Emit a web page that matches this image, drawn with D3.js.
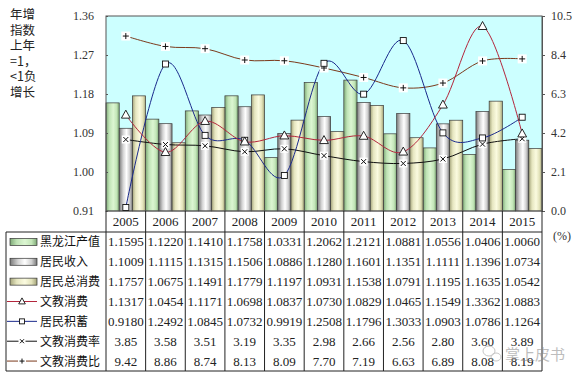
<!DOCTYPE html>
<html><head><meta charset="utf-8">
<script src="https://cdn.jsdelivr.net/npm/d3@7"></script>
<style>body{margin:0;background:#fff}svg{display:block}</style>
</head><body><svg id="c" width="581" height="379"></svg>
<script>
const years = ['2005','2006','2007','2008','2009','2010','2011','2012','2013','2014','2015'];
const hljOutput = [1.1595,1.1220,1.1410,1.1758,1.0331,1.2062,1.2121,1.0881,1.0556,1.0406,1.0060];
const income = [1.1009,1.1115,1.1315,1.1506,1.0886,1.1280,1.1601,1.1351,1.1111,1.1396,1.0734];
const totalConsumption = [1.1757,1.0675,1.1491,1.1779,1.1197,1.0931,1.1538,1.0791,1.1195,1.1635,1.0542];
const eduConsumption = [1.1317,1.0454,1.1171,1.0698,1.0837,1.0730,1.0829,1.0465,1.1549,1.3362,1.0883];
const savings = [0.9180,1.2492,1.0845,1.0732,0.9919,1.2508,1.1796,1.3033,1.0903,1.0786,1.1264];
const eduRate = [3.85,3.58,3.51,3.19,3.35,2.98,2.66,2.56,2.80,3.60,3.89];
const eduRatio = [9.42,8.86,8.74,8.13,8.09,7.70,7.19,6.63,6.89,8.08,8.19];
const leftTicks = [0.91,1.00,1.09,1.18,1.27,1.36];
const rightTicks = [0.0,2.1,4.2,6.3,8.4,10.5];
const seriesNames = ['黑龙江产值','居民收入','居民总消费','文教消费','居民积蓄','文教消费率','文教消费比'];
const yTitle = ['年增','指数','上年','=1，','<1负','增长'];

const svg = d3.select('#c');
const L=106, R=542, T=16, B=211;
const tableTop=232, tableBot=371, tableLeft=6;
const serif = '"Liberation Serif","Times New Roman",serif';
const cjk = '"Noto Sans CJK SC","Noto Sans",sans-serif';

const x = d3.scaleBand().domain(years).range([L,R]).paddingInner(0).paddingOuter(0);
const yL = d3.scaleLinear().domain([0.91,1.36]).range([B,T]);
const yR = d3.scaleLinear().domain([0,10.5]).range([B,T]);

// gradients
const defs = svg.append('defs');
function grad(id, stops){
  const g = defs.append('linearGradient').attr('id',id).attr('x1','0%').attr('x2','100%').attr('y1','0%').attr('y2','0%');
  stops.forEach(s=>g.append('stop').attr('offset',s[0]).attr('stop-color',s[1]));
}
grad('gG',[['0%','#7faa78'],['25%','#bfe3b5'],['55%','#dcf6d2'],['80%','#c3e6b8'],['100%','#7ea876']]);
grad('gS',[['0%','#7a7a7a'],['30%','#d4d4d4'],['55%','#ffffff'],['80%','#d0d0d0'],['100%','#777777']]);
grad('gY',[['0%','#a5a57c'],['25%','#e6e6c0'],['55%','#fbfbe0'],['80%','#e3e3bb'],['100%','#a3a378']]);
const fills = ['url(#gG)','url(#gS)','url(#gY)'];

// plot background
svg.append('rect').attr('x',L).attr('y',T).attr('width',R-L).attr('height',B-T).attr('fill','#CCFFFF');

// bars
const barSeries = [hljOutput, income, totalConsumption];
const bw = x.bandwidth()/3;
barSeries.forEach((arr,si)=>{
  svg.append('g').selectAll('rect').data(arr).join('rect')
    .attr('x',(d,i)=>x(years[i])+si*bw)
    .attr('y',d=>yL(d))
    .attr('width',bw)
    .attr('height',d=>B-yL(d))
    .attr('fill',fills[si]).attr('stroke','#3a3a3a').attr('stroke-width',0.7);
});

// plot border
svg.append('rect').attr('x',L).attr('y',T).attr('width',R-L).attr('height',B-T).attr('fill','none').attr('stroke','#555').attr('stroke-width',1);

// left axis
const gl = svg.append('g').attr('transform',`translate(${L},0)`)
  .call(d3.axisLeft(yL).tickValues(leftTicks).tickFormat(d3.format('.2f')).tickSize(-2).tickPadding(12));
gl.select('.domain').remove();
gl.selectAll('line').attr('stroke','#555');
gl.selectAll('text').attr('font-family',serif).attr('font-size',12).attr('fill','#333');
// right axis
const gr = svg.append('g').attr('transform',`translate(${R},0)`)
  .call(d3.axisRight(yR).tickValues(rightTicks).tickFormat(d3.format('.1f')).tickSize(3).tickPadding(6));
gr.select('.domain').attr('stroke','#555');
gr.selectAll('line').attr('stroke','#555');
gr.selectAll('text').attr('font-family',serif).attr('font-size',12).attr('fill','#333');

svg.append('text').attr('x',553).attr('y',240).text('(%)').attr('font-family',serif).attr('font-size',12).attr('fill','#333');

// y title
svg.append('g').selectAll('text').data(yTitle).join('text')
  .attr('x',10).attr('y',(d,i)=>19+i*15.6).text(d=>d)
  .attr('font-family',cjk).attr('font-size',12.5).attr('fill','#222');

// lines
const cx = i => x(years[i]) + x.bandwidth()/2;
const curve = d3.curveCardinal.tension(0);
function drawLine(arr, scale, color){
  svg.append('path').datum(arr)
    .attr('d', d3.line().x((d,i)=>cx(i)).y(d=>scale(d)).curve(curve))
    .attr('fill','none').attr('stroke',color).attr('stroke-width',1);
}
drawLine(eduRatio, yR, '#7b3a1c');
drawLine(eduRate, yR, '#111');
drawLine(savings, yL, '#1a2a8c');
drawLine(eduConsumption, yL, '#b3263c');

function triangle(g, px, py, s){
  g.append('path').attr('d',`M${px},${py-s*0.6}L${px+s*0.55},${py+s*0.4}L${px-s*0.55},${py+s*0.4}Z`)
   .attr('fill','#fff').attr('stroke','#111').attr('stroke-width',0.9);
}
function square(g, px, py, s){
  g.append('rect').attr('x',px-s/2).attr('y',py-s/2).attr('width',s).attr('height',s)
   .attr('fill','#fff').attr('stroke','#111').attr('stroke-width',0.9);
}
function xmark(g, px, py, s, bg){
  if(bg) g.append('rect').attr('x',px-s/2-1.5).attr('y',py-s/2-1.5).attr('width',s+3).attr('height',s+3).attr('fill','#fff');
  g.append('path').attr('d',`M${px-s/2},${py-s/2}L${px+s/2},${py+s/2}M${px+s/2},${py-s/2}L${px-s/2},${py+s/2}`)
   .attr('stroke','#111').attr('stroke-width',1);
}
function plus(g, px, py, s, bg){
  if(bg) g.append('rect').attr('x',px-s/2-1.5).attr('y',py-s/2-1.5).attr('width',s+3).attr('height',s+3).attr('fill','#fff');
  g.append('path').attr('d',`M${px-s/2},${py}L${px+s/2},${py}M${px},${py-s/2}L${px},${py+s/2}`)
   .attr('stroke','#111').attr('stroke-width',1);
}
const mg = svg.append('g');
eduRatio.forEach((d,i)=>plus(mg, cx(i), yR(d), 6, true));
eduRate.forEach((d,i)=>xmark(mg, cx(i), yR(d), 5, true));
savings.forEach((d,i)=>square(mg, cx(i), yL(d), 6));
eduConsumption.forEach((d,i)=>triangle(mg, cx(i), yL(d), 8));

// year labels
svg.append('g').selectAll('text').data(years).join('text')
  .attr('x',d=>x(d)+x.bandwidth()/2).attr('y',226).attr('text-anchor','middle').text(d=>d)
  .attr('font-family',serif).attr('font-size',13).attr('fill','#222');

// table grid
const tg = svg.append('g').attr('stroke','#222').attr('stroke-width',1).attr('fill','none');
tg.append('line').attr('x1',tableLeft).attr('x2',R).attr('y1',tableTop).attr('y2',tableTop);
tg.append('line').attr('x1',tableLeft).attr('x2',R).attr('y1',tableBot).attr('y2',tableBot);
tg.append('line').attr('x1',tableLeft).attr('x2',tableLeft).attr('y1',tableTop).attr('y2',tableBot);
years.forEach(y=>tg.append('line').attr('x1',x(y)).attr('x2',x(y)).attr('y1',B).attr('y2',tableBot));
tg.append('line').attr('x1',R).attr('x2',R).attr('y1',B).attr('y2',tableBot);

// table rows
const rowData = [hljOutput, income, totalConsumption, eduConsumption, savings, eduRate, eduRatio];
const rh = (tableBot-tableTop)/7;
const f4 = d3.format('.4f'), f2 = d3.format('.2f');
rowData.forEach((arr,r)=>{
  const yc = tableTop + rh*(r+0.5);
  svg.append('g').selectAll('text').data(arr).join('text')
    .attr('x',(d,i)=>cx(i)).attr('y',yc+4.5).attr('text-anchor','middle')
    .text(d=> r<5 ? f4(d) : f2(d))
    .attr('font-family',serif).attr('font-size',13).attr('fill','#222');
  svg.append('text').attr('x',40).attr('y',yc+4.5).text(seriesNames[r])
    .attr('font-family',cjk).attr('font-size',12).attr('fill','#111');
  const kg = svg.append('g');
  if(r<3){
    kg.append('rect').attr('x',10).attr('y',yc-3.5).attr('width',27).attr('height',7)
      .attr('fill',fills[r]).attr('stroke','#333').attr('stroke-width',0.7);
  } else {
    const col = ['#b3263c','#1a2a8c','#111','#7b3a1c'][r-3];
    kg.append('line').attr('x1',7).attr('x2',37).attr('y1',yc).attr('y2',yc).attr('stroke',col).attr('stroke-width',1);
    if(r===3) triangle(kg,22,yc,6);
    if(r===4) square(kg,22,yc,5);
    if(r===5) xmark(kg,22,yc,4,true);
    if(r===6) plus(kg,22,yc,5,true);
  }
});

// watermark
const wm = svg.append('g').attr('opacity',0.55);
wm.append('ellipse').attr('cx',489).attr('cy',351).attr('rx',6).attr('ry',5).attr('fill','none').attr('stroke','#999');
wm.append('ellipse').attr('cx',496).attr('cy',357).attr('rx',5).attr('ry',4).attr('fill','none').attr('stroke','#999');
wm.append('text').attr('x',505).attr('y',360).text('掌上皮书')
  .attr('font-family',cjk).attr('font-size',15).attr('fill','#888');
</script></body></html>
